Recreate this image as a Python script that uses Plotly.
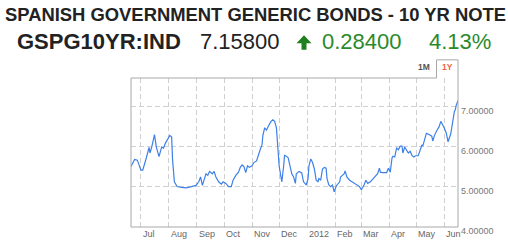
import plotly.graph_objects as go

# ---- data ----
dates = [
    "2011-06-20", "2011-06-24", "2011-06-27", "2011-07-01", "2011-07-03", "2011-07-05", "2011-07-07",
    "2011-07-10", "2011-07-11", "2011-07-13", "2011-07-16", "2011-07-18", "2011-07-21", "2011-07-24",
    "2011-07-26", "2011-07-28", "2011-07-31", "2011-08-02", "2011-08-04", "2011-08-05", "2011-08-07",
    "2011-08-10", "2011-08-15", "2011-08-20", "2011-08-26", "2011-08-31", "2011-09-03", "2011-09-05",
    "2011-09-07", "2011-09-09", "2011-09-11", "2011-09-13", "2011-09-15", "2011-09-18", "2011-09-20",
    "2011-09-22", "2011-09-25", "2011-09-28", "2011-09-30", "2011-10-03", "2011-10-06", "2011-10-09",
    "2011-10-11", "2011-10-14", "2011-10-17", "2011-10-19", "2011-10-21", "2011-10-23", "2011-10-25",
    "2011-10-27", "2011-10-29", "2011-11-01", "2011-11-03", "2011-11-06", "2011-11-08", "2011-11-10",
    "2011-11-12", "2011-11-13", "2011-11-15", "2011-11-17", "2011-11-19", "2011-11-22", "2011-11-24",
    "2011-11-26", "2011-11-28", "2011-11-29", "2011-12-01", "2011-12-03", "2011-12-04", "2011-12-06",
    "2011-12-07", "2011-12-09", "2011-12-11", "2011-12-13", "2011-12-15", "2011-12-17", "2011-12-19",
    "2011-12-20", "2011-12-23", "2011-12-26", "2011-12-28", "2011-12-31", "2012-01-02", "2012-01-03",
    "2012-01-05", "2012-01-07", "2012-01-09", "2012-01-11", "2012-01-13", "2012-01-14", "2012-01-16",
    "2012-01-18", "2012-01-20", "2012-01-22", "2012-01-23", "2012-01-25", "2012-01-27", "2012-01-29",
    "2012-01-31", "2012-02-02", "2012-02-03", "2012-02-06", "2012-02-07", "2012-02-09", "2012-02-11",
    "2012-02-12", "2012-02-14", "2012-02-17", "2012-02-20", "2012-02-23", "2012-02-25", "2012-02-28",
    "2012-03-01", "2012-03-03", "2012-03-04", "2012-03-06", "2012-03-08", "2012-03-11", "2012-03-14",
    "2012-03-16", "2012-03-19", "2012-03-21", "2012-03-22", "2012-03-25", "2012-03-29", "2012-03-31",
    "2012-04-02", "2012-04-04", "2012-04-05", "2012-04-07", "2012-04-09", "2012-04-11", "2012-04-13",
    "2012-04-15", "2012-04-16", "2012-04-18", "2012-04-20", "2012-04-22", "2012-04-24", "2012-04-26",
    "2012-04-28", "2012-04-30", "2012-05-03", "2012-05-05", "2012-05-07", "2012-05-08", "2012-05-10",
    "2012-05-12", "2012-05-15", "2012-05-18", "2012-05-19", "2012-05-21", "2012-05-24", "2012-05-26",
    "2012-05-28", "2012-05-30", "2012-06-01", "2012-06-03", "2012-06-05", "2012-06-08", "2012-06-10",
    "2012-06-12", "2012-06-13", "2012-06-14", "2012-06-16",
]
yields = [
    5.51, 5.69, 5.67, 5.42, 5.42, 5.61, 5.73,
    5.99, 5.85, 6.00, 6.31, 6.00, 5.76, 6.00,
    5.97, 6.09, 6.20, 6.29, 6.25, 5.69, 5.13,
    5.01, 4.99, 4.98, 5.01, 5.04, 5.13, 5.25,
    5.04, 5.21, 5.33, 5.29, 5.39, 5.33, 5.39,
    5.25, 5.13, 5.07, 5.13, 5.09, 5.01, 5.01,
    5.17, 5.29, 5.37, 5.49, 5.55, 5.51, 5.36,
    5.53, 5.49, 5.53, 5.61, 5.65, 5.81, 5.93,
    6.05, 6.29, 6.48, 6.42, 6.52, 6.64, 6.68,
    6.64, 6.48, 6.09, 5.53, 5.25, 5.13, 5.53,
    5.79, 5.77, 5.73, 5.53, 5.33, 5.25, 5.09,
    5.33, 5.39, 5.35, 5.13, 5.05, 5.21, 5.53,
    5.70, 5.61, 5.45, 5.17, 5.13, 5.21, 5.17,
    5.45, 5.49, 5.47, 5.21, 5.05, 5.01, 5.05,
    4.88, 5.01, 5.05, 5.13, 5.25, 5.29, 5.33,
    5.40, 5.25, 5.17, 5.13, 5.09, 5.05, 5.01,
    4.93, 5.01, 5.05, 5.17, 5.09, 5.13, 5.21,
    5.25, 5.33, 5.47, 5.37, 5.36, 5.36, 5.47,
    5.37, 5.73, 5.77, 5.75, 5.97, 5.93, 6.02,
    6.02, 5.85, 6.00, 5.93, 5.85, 5.89, 5.79,
    5.75, 5.78, 5.78, 5.90, 6.05, 6.02, 6.22,
    6.34, 6.31, 6.27, 6.15, 6.29, 6.43, 6.50,
    6.64, 6.56, 6.46, 6.35, 6.13, 6.33, 6.62,
    6.89, 6.93, 7.04, 7.16,
]
month_ticks = ["2011-07-01", "2011-08-01", "2011-09-01", "2011-10-01", "2011-11-01", "2011-12-01",
               "2012-01-01", "2012-02-01", "2012-03-01", "2012-04-01", "2012-05-01", "2012-06-01"]
month_labels = ["Jul", "Aug", "Sep", "Oct", "Nov", "Dec", "2012", "Feb", "Mar", "Apr", "May", "Jun"]
y_ticks = [4, 5, 6, 7]

title_text = "SPANISH GOVERNMENT GENERIC BONDS - 10 YR NOTE"
ticker = "GSPG10YR:IND"
last_value = "7.15800"
change = "0.28400"
change_pct = "4.13%"

# ---- layout geometry (pixels) ----
W, H = 508, 248
L, R, T, B = 131, 458, 78, 234


def px(x):
    return (x - L) / (R - L)


def py(y):
    return (B - y) / (B - T)


FONT = "Liberation Sans, Arial, sans-serif"
GREEN = "#2a8a2a"
GRID = "#d0d0d0"
BORDER = "#a8a8a8"

fig = go.Figure()
fig.add_trace(go.Scatter(x=dates, y=yields, mode="lines",
                         line=dict(color="#3d80e8", width=1.2), hoverinfo="skip"))

fig.update_layout(
    width=W, height=H,
    margin=dict(l=L, r=W - R, t=T, b=H - B, pad=0),
    paper_bgcolor="white", plot_bgcolor="white",
    showlegend=False,
    font=dict(family=FONT),
    xaxis=dict(type="date", range=["2011-06-20", "2012-06-16"],
               tickvals=month_ticks, showticklabels=False,
               showgrid=True, gridcolor=GRID, griddash="5px,3px", gridwidth=1,
               zeroline=False, showline=False, ticks=""),
    yaxis=dict(range=[4, 4 + (B - T) / 41.9], side="right",
               tickvals=y_ticks, tickformat=".5f",
               tickfont=dict(size=9, color="#777777", family=FONT),
               ticklabelstandoff=2, ticklabelshift=4,
               showgrid=True, gridcolor=GRID, griddash="5px,3px", gridwidth=1,
               zeroline=False, showline=False, ticks=""),
)

# month labels left-aligned at gridlines
for d, lab in zip(month_ticks, month_labels):
    fig.add_annotation(x=d, xref="x", y=py(241), yref="paper", text=lab, showarrow=False,
                       xanchor="left", yanchor="middle",
                       font=dict(size=9, color="#666666", family=FONT))

# plot frame with 1Y tab
tab_l, tab_t = 436.5, 59
fig.add_shape(type="line", xref="paper", yref="paper", x0=0, x1=0, y0=0, y1=1,
              line=dict(color=BORDER, width=1))
fig.add_shape(type="line", xref="paper", yref="paper", x0=0, x1=1, y0=0, y1=0,
              line=dict(color=BORDER, width=1))
fig.add_shape(type="line", xref="paper", yref="paper", x0=0, x1=px(tab_l), y0=1, y1=1,
              line=dict(color=BORDER, width=1))
fig.add_shape(type="path", xref="paper", yref="paper",
              path=f"M {px(tab_l)},1 L {px(tab_l)},{py(tab_t)} L 1,{py(tab_t)} L 1,0",
              line=dict(color=BORDER, width=1))
fig.add_annotation(x=px(424), y=py(66), xref="paper", yref="paper", text="<b>1M</b>",
                   xanchor="center", yanchor="middle",
                   showarrow=False, font=dict(size=8.5, color="#555555", family=FONT))
fig.add_annotation(x=px(447.3), y=py(66), xref="paper", yref="paper", text="<b>1Y</b>",
                   xanchor="center", yanchor="middle",
                   showarrow=False, font=dict(size=8.5, color="#f0643c", family=FONT))

# header text
fig.add_annotation(x=px(2.5), y=py(11.5), xref="paper", yref="paper", xanchor="left", yanchor="middle",
                   text=f"<b>{title_text}</b>", showarrow=False,
                   font=dict(size=18.4, color="#222222", family=FONT))
row_y = py(40)
fig.add_annotation(x=px(14.5), y=row_y, xref="paper", yref="paper", xanchor="left", yanchor="middle",
                   text=f"<b>{ticker}</b>", showarrow=False,
                   font=dict(size=22, color="#222222", family=FONT))
fig.add_annotation(x=px(198), y=row_y, xref="paper", yref="paper", xanchor="left", yanchor="middle",
                   text=last_value, showarrow=False,
                   font=dict(size=22, color="#222222", family=FONT))
fig.add_annotation(x=px(320), y=row_y, xref="paper", yref="paper", xanchor="left", yanchor="middle",
                   text=change, showarrow=False,
                   font=dict(size=22, color=GREEN, family=FONT))
fig.add_annotation(x=px(427), y=row_y, xref="paper", yref="paper", xanchor="left", yanchor="middle",
                   text=change_pct, showarrow=False,
                   font=dict(size=22, color=GREEN, family=FONT))

# green up arrow
arrow = [(304, 33.3), (311.5, 41.5), (306.5, 41.5), (306.5, 48.5),
         (301.5, 48.5), (301.5, 41.5), (296.5, 41.5)]
path = "M " + " L ".join(f"{px(a)},{py(b)}" for a, b in arrow) + " Z"
fig.add_shape(type="path", xref="paper", yref="paper", path=path,
              fillcolor="#1f7f1f", line=dict(width=0))

fig.write_html("out.html")
